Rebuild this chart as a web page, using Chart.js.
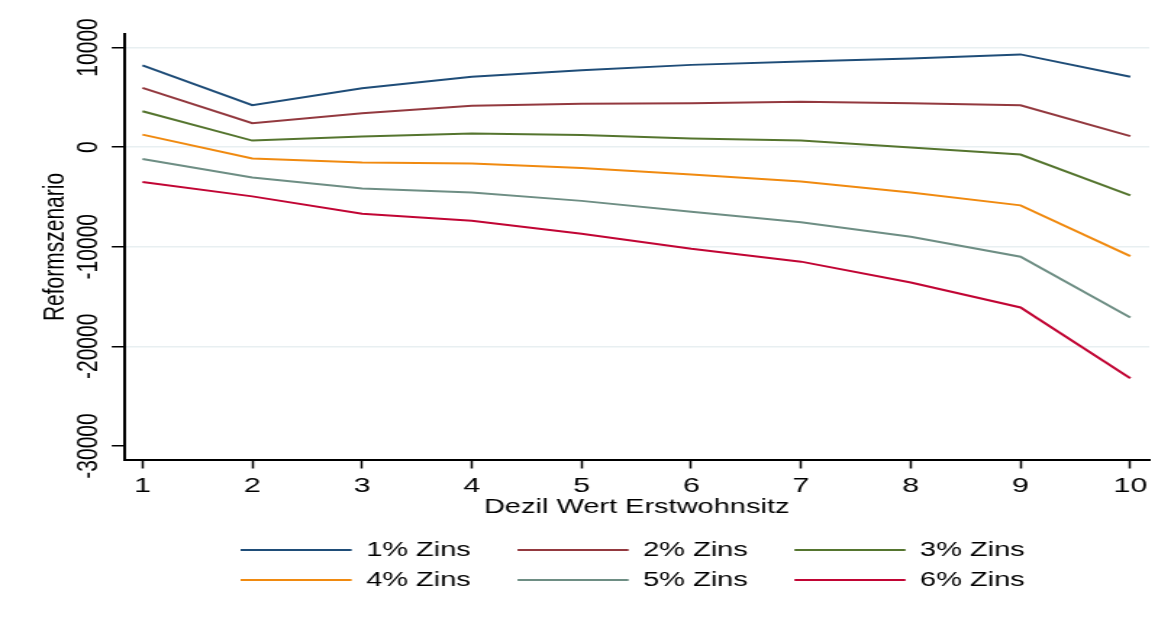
<!DOCTYPE html>
<html>
<head>
    <title>Reformszenario</title>
    <script src="https://cdn.jsdelivr.net/npm/chart.js"></script>
    <style>
        body {
            margin: 0;
            background: #fff;
        }
    </style>
</head>
<body>
    <!-- the reference is stretched horizontally, so the canvas is drawn narrow and scaled up -->
    <canvas id="chart" width="808" height="617" style="width:1171px;height:617px;display:block"></canvas>

    <script>
const deciles = [1, 2, 3, 4, 5, 6, 7, 8, 9, 10];
const xTicks = [1, 2, 3, 4, 5, 6, 7, 8, 9, 10];
const yTicks = [-30000, -20000, -10000, 0, 10000];

const seriesNames = ["1% Zins", "2% Zins", "3% Zins", "4% Zins", "5% Zins", "6% Zins"];
const seriesColors = ["#1f4d78", "#93393f", "#55752f", "#f08a10", "#6e8e84", "#c10534"];

const zins1 = [8200, 4200, 5900, 7050, 7700, 8250, 8600, 8900, 9300, 7050];
const zins2 = [5950, 2400, 3400, 4150, 4350, 4400, 4550, 4400, 4200, 1100];
const zins3 = [3600, 650, 1050, 1350, 1200, 850, 650, -50, -750, -4850];
const zins4 = [1250, -1150, -1550, -1650, -2100, -2750, -3450, -4550, -5850, -10950];
const zins5 = [-1200, -3050, -4150, -4550, -5400, -6500, -7550, -9000, -11000, -17100];
const zins6 = [-3500, -4950, -6700, -7400, -8700, -10200, -11500, -13600, -16100, -23200];

const allSeries = [zins1, zins2, zins3, zins4, zins5, zins6];
const font = "'Liberation Sans', Arial, sans-serif";

const datasets = allSeries.map((vals, i) => ({
    label: seriesNames[i],
    data: vals.map((v, j) => ({ x: deciles[j], y: v })),
    borderColor: seriesColors[i],
    backgroundColor: seriesColors[i],
    borderWidth: 2,
    pointRadius: 0,
    tension: 0
}));

new Chart(document.getElementById("chart"), {
    type: "line",
    data: { datasets: datasets },
    options: {
        responsive: false,
        animation: false,
        devicePixelRatio: 1,
        layout: { padding: { top: 34, left: 26, right: 15, bottom: 17 } },
        scales: {
            x: {
                type: "linear",
                min: 0.832,
                max: 10.173,
                afterBuildTicks: s => { s.ticks = xTicks.map(v => ({ value: v })); },
                afterFit: s => { s.height = 70; },
                border: { color: "#000", width: 2 },
                grid: { drawOnChartArea: false, tickLength: 8.5, tickColor: "#000", tickWidth: 1.5 },
                ticks: { color: "#000", padding: 5, maxRotation: 0, font: { family: font, size: 21 } },
                title: {
                    display: true,
                    text: "Dezil Wert Erstwohnsitz",
                    color: "#000",
                    font: { family: font, size: 20 },
                    padding: { top: 0, bottom: 11 }
                }
            },
            y: {
                min: -31409,
                max: 11349,
                afterBuildTicks: s => { s.ticks = yTicks.map(v => ({ value: v })); },
                afterFit: s => { s.width = 59.6; },
                border: { color: "#000", width: 2 },
                grid: {
                    color: ctx => (ctx.tick && ctx.tick.value === -30000 ? "rgba(0,0,0,0)" : "#e8eff1"),
                    lineWidth: 1.5,
                    tickLength: 8.5,
                    tickColor: "#000",
                    tickWidth: 1.5
                },
                ticks: {
                    color: "#000",
                    minRotation: 90,
                    maxRotation: 90,
                    crossAlign: "center",
                    padding: -16.3,
                    font: { family: font, size: 21 },
                    callback: v => String(v)
                },
                title: {
                    display: true,
                    text: "Reformszenario",
                    color: "#000",
                    font: { family: font, size: 21 },
                    padding: 0
                }
            }
        },
        plugins: {
            tooltip: { enabled: false },
            legend: {
                position: "bottom",
                fullSize: false,
                labels: {
                    color: "#000",
                    font: { family: font, size: 20 },
                    usePointStyle: true,
                    pointStyle: "line",
                    pointStyleWidth: 76.6,
                    padding: 10,
                    generateLabels: chart => {
                        const items = Chart.defaults.plugins.legend.labels.generateLabels(chart);
                        // trailing spaces so the three columns are spaced like the original
                        items.forEach((it, i) => {
                            it.text = it.text + "\u00a0".repeat(i % 3 === 2 ? 1 : 4);
                        });
                        return items;
                    }
                }
            }
        }
    }
});
    </script>
</body>
</html>
